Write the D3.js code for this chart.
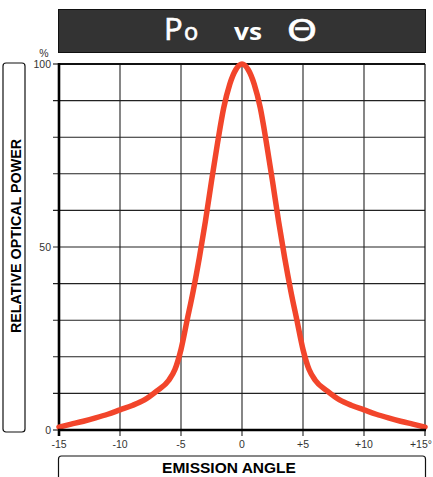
<!DOCTYPE html>
<html>
<head>
<meta charset="utf-8">
<script src="https://cdn.jsdelivr.net/npm/d3@7"></script>
<style>
  body { margin: 0; background: #fff; }
  svg { display: block; font-family: "Liberation Sans", Arial, sans-serif; }
</style>
</head>
<body>
<svg id="chart" width="433" height="477"></svg>
<script>
// emission angle (deg) and relative optical power (%)
const angles = [-15, -14, -13, -12, -11, -10, -9, -8, -7, -6, -5.5, -5, -4.5, -4, -3.5, -3, -2.5, -2, -1.5, -1, -0.5, 0,
                0.5, 1, 1.5, 2, 2.5, 3, 3.5, 4, 4.5, 5, 5.5, 6, 7, 8, 9, 10, 11, 12, 13, 14, 15];
const power = [0.8, 1.6, 2.4, 3.3, 4.3, 5.5, 6.7, 8.2, 10.6, 13.6, 16.5, 22, 30, 38, 47, 57, 68, 78.5, 88, 94.5, 98.5, 100,
               98.5, 94.5, 88, 78.5, 68, 57, 47, 38, 30, 22, 16.5, 13.6, 10.6, 8.2, 6.7, 5.5, 4.3, 3.3, 2.4, 1.6, 0.8];
const xTicks = [-15, -10, -5, 0, 5, 10, 15];
const xTickLabels = ["-15", "-10", "-5", "0", "+5", "+10", "+15°"];
const yGrid = [10, 20, 30, 40, 50, 60, 70, 80, 90];
const yTickLabels = [0, 50, 100];

const svg = d3.select("#chart");
const x = d3.scaleLinear().domain([-15, 15]).range([59, 425]);
const y = d3.scaleLinear().domain([0, 100]).range([430, 64]);

// title box
svg.append("rect")
    .attr("x", 58.5).attr("y", 9.5).attr("width", 367).attr("height", 43)
    .attr("fill", "#333").attr("stroke", "#111").attr("stroke-width", 1);
const titleFont = "'Open Sans', 'DejaVu Sans', sans-serif";
svg.append("text").attr("x", 164).attr("y", 39.5).attr("fill", "#fff")
    .attr("stroke", "#fff").attr("stroke-width", 0.7)
    .attr("font-family", titleFont).attr("font-size", 31).text("P");
svg.append("text").attr("x", 184).attr("y", 39.5).attr("fill", "#fff")
    .attr("stroke", "#fff").attr("stroke-width", 0.7)
    .attr("font-family", titleFont).attr("font-size", 23.5).text("o");
svg.append("text").attr("x", 234).attr("y", 39.5).attr("fill", "#fff")
    .attr("font-family", titleFont).attr("font-size", 22.5).attr("font-weight", "bold")
    .attr("textLength", 28).attr("lengthAdjust", "spacingAndGlyphs").text("vs");
svg.append("text").attr("x", 287).attr("y", 40.5).attr("fill", "#fff")
    .attr("stroke", "#fff").attr("stroke-width", 0.5)
    .attr("font-family", "'DejaVu Sans', sans-serif").attr("font-size", 30)
    .attr("textLength", 30).attr("lengthAdjust", "spacingAndGlyphs").text("Θ");

// axis label boxes
svg.append("rect")
    .attr("x", 3).attr("y", 63).attr("width", 22).attr("height", 369).attr("rx", 3)
    .attr("fill", "none").attr("stroke", "#111").attr("stroke-width", 1.2);
svg.append("text")
    .attr("transform", "translate(20.5,236) rotate(-90)")
    .attr("text-anchor", "middle").attr("font-size", 14.3).attr("font-weight", "bold")
    .text("RELATIVE OPTICAL POWER");

svg.append("rect")
    .attr("x", 58.5).attr("y", 456).attr("width", 367).attr("height", 40).attr("rx", 3)
    .attr("fill", "none").attr("stroke", "#111").attr("stroke-width", 1.2);
svg.append("text")
    .attr("x", 229).attr("y", 473).attr("text-anchor", "middle")
    .attr("font-size", 15.5).attr("font-weight", "bold")
    .text("EMISSION ANGLE");

// grid
const g = svg.append("g");
g.selectAll(".hgrid").data(yGrid).join("line")
    .attr("x1", 53).attr("x2", 425)
    .attr("y1", d => y(d)).attr("y2", d => y(d))
    .attr("stroke", "#222").attr("stroke-width", 1.1);
g.selectAll(".vgrid").data(xTicks.slice(1, -1)).join("line")
    .attr("x1", d => x(d)).attr("x2", d => x(d))
    .attr("y1", y(100)).attr("y2", 436)
    .attr("stroke", "#222").attr("stroke-width", 1.1);

// frame
g.append("line").attr("x1", 59).attr("x2", 425).attr("y1", y(100)).attr("y2", y(100))
    .attr("stroke", "#111").attr("stroke-width", 2);
g.append("line").attr("x1", 425).attr("x2", 425).attr("y1", y(100)).attr("y2", 436)
    .attr("stroke", "#111").attr("stroke-width", 1.2);
g.append("line").attr("x1", 53).attr("x2", 59).attr("y1", y(100)).attr("y2", y(100))
    .attr("stroke", "#111").attr("stroke-width", 1.1);
g.append("line").attr("x1", 53).attr("x2", 59).attr("y1", y(0)).attr("y2", y(0))
    .attr("stroke", "#111").attr("stroke-width", 1.1);
g.append("line").attr("x1", 59).attr("x2", 59).attr("y1", y(100) - 1).attr("y2", 436)
    .attr("stroke", "#000").attr("stroke-width", 2.6);

// curve
const line = d3.line()
    .x((d, i) => x(angles[i]))
    .y(d => y(d))
    .curve(d3.curveMonotoneX);
svg.append("path")
    .datum(power)
    .attr("fill", "none")
    .attr("stroke", "#f2452b")
    .attr("stroke-width", 5.5)
    .attr("stroke-linecap", "round")
    .attr("stroke-linejoin", "round")
    .attr("d", line);

svg.append("line").attr("x1", 58).attr("x2", 426).attr("y1", y(0)).attr("y2", y(0))
    .attr("stroke", "#000").attr("stroke-width", 2.6);

// tick labels
svg.selectAll(".xl").data(xTicks).join("text")
    .attr("x", d => d === 15 ? 432 : x(d))
    .attr("y", 448)
    .attr("text-anchor", d => d === 15 ? "end" : "middle")
    .attr("font-size", 10.5).attr("fill", "#333")
    .text((d, i) => xTickLabels[i]);
svg.selectAll(".yl").data(yTickLabels).join("text")
    .attr("x", 51).attr("y", d => y(d) + 4)
    .attr("text-anchor", "end").attr("font-size", 10.5).attr("fill", "#333")
    .text(d => d);
svg.append("text").attr("x", 44).attr("y", 57).attr("text-anchor", "middle")
    .attr("font-size", 10.5).attr("fill", "#333").text("%");
</script>
</body>
</html>
